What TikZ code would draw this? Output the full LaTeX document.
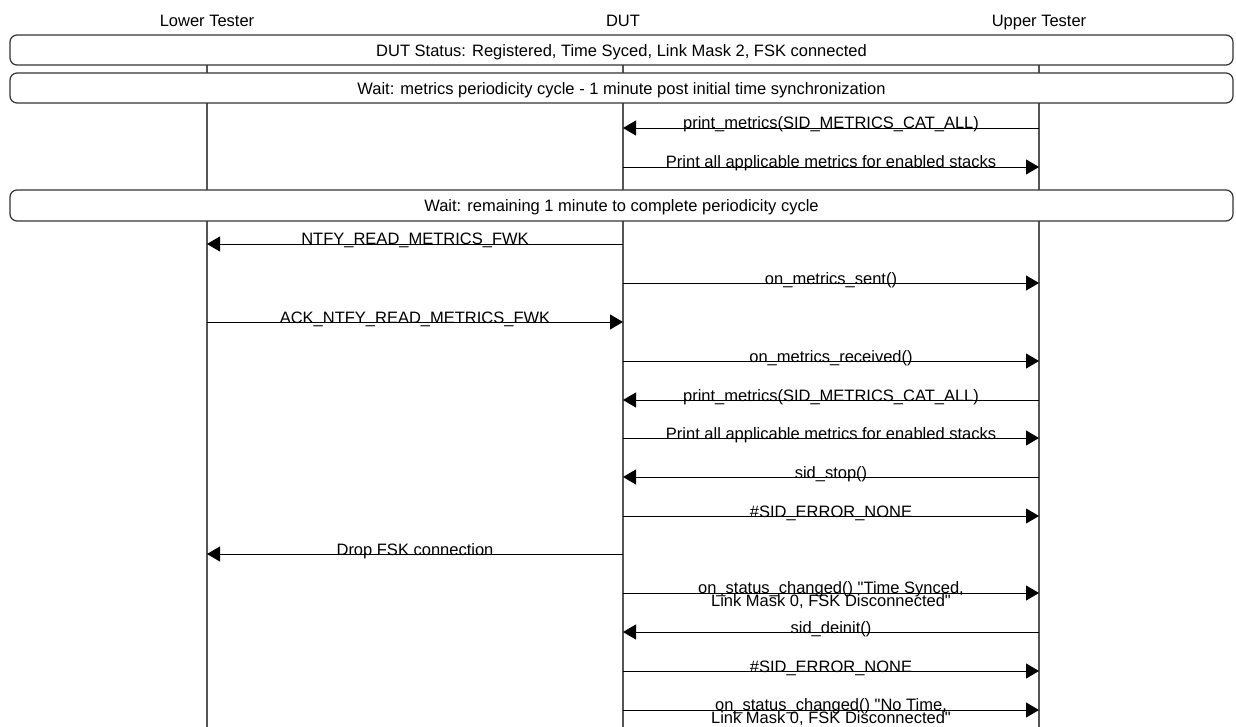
\documentclass[tikz,border=0pt]{standalone}
\usepackage{fontspec}
\setmainfont{Liberation Sans}[Ligatures=TeXOff]
\usetikzlibrary{arrows.meta}

\definecolor{lifegray}{HTML}{555555}
\definecolor{boxgray}{HTML}{333333}

% straight double quote
\newcommand{\sdq}{\char34\relax}

\tikzset{
  actor/.style={anchor=base, inner sep=0pt, font=\fontsize{16.5}{18}\selectfont},
  lifeline/.style={draw=lifegray, line width=1.6pt},
  statebox/.style={draw=boxgray, fill=white, line width=1.2pt, rounded corners=7pt,
    minimum width=1223pt, minimum height=30pt, inner sep=0pt,
    text height=13pt, text depth=0pt, font=\fontsize{16.5}{18}\selectfont},
  msg/.style={draw=black, line width=0.9pt, -{Triangle[length=13pt,width=15pt]}},
  lbl/.style={midway, anchor=base, inner sep=0pt, yshift=-1pt,
    font=\fontsize{16.5}{18}\selectfont},
  lbltwo/.style={midway, anchor=center, inner sep=0pt, align=center, yshift=-2pt,
    font=\fontsize{16.5}{13.5}\selectfont},
}

\begin{document}
\begin{tikzpicture}[x=1pt, y=-1pt]
  \useasboundingbox (0,0) rectangle (1236,727);

  % participants
  \node[actor] (lt) at (207,27) {Lower Tester};
  \node[actor] (dut) at (623,27) {DUT};
  \node[actor] (ut) at (1039,27) {Upper Tester};

  % lifeline ends
  \coordinate (lt-top) at (207,35);   \coordinate (lt-bot) at (207,727);
  \coordinate (dut-top) at (623,35);  \coordinate (dut-bot) at (623,727);
  \coordinate (ut-top) at (1039,35);  \coordinate (ut-bot) at (1039,727);
  \draw[lifeline] (lt-top) -- (lt-bot);
  \draw[lifeline] (dut-top) -- (dut-bot);
  \draw[lifeline] (ut-top) -- (ut-bot);

  % state / wait boxes spanning all lifelines
  \node[statebox] (status) at (621.5,50) {DUT Status: Registered, Time Syced, Link Mask 2, FSK connected};
  \node[statebox] (wait1) at (621.5,88) {Wait: metrics periodicity cycle - 1 minute post initial time synchronization};
  \node[statebox, minimum height=31pt] (wait2) at (621.5,205.5) {Wait: remaining 1 minute to complete periodicity cycle};

  % messages
  \draw[msg] (ut |- 0,128) -- node[lbl] {print\_metrics(SID\_METRICS\_CAT\_ALL)} (dut |- 0,128);
  \draw[msg] (dut |- 0,167) -- node[lbl] {Print all applicable metrics for enabled stacks} (ut |- 0,167);

  \draw[msg] (dut |- 0,244) -- node[lbl] {NTFY\_READ\_METRICS\_FWK} (lt |- 0,244);
  \draw[msg] (dut |- 0,283) -- node[lbl] {on\_metrics\_sent()} (ut |- 0,283);
  \draw[msg] (lt |- 0,322) -- node[lbl] {ACK\_NTFY\_READ\_METRICS\_FWK} (dut |- 0,322);
  \draw[msg] (dut |- 0,361) -- node[lbl] {on\_metrics\_received()} (ut |- 0,361);
  \draw[msg] (ut |- 0,400) -- node[lbl] {print\_metrics(SID\_METRICS\_CAT\_ALL)} (dut |- 0,400);
  \draw[msg] (dut |- 0,438) -- node[lbl] {Print all applicable metrics for enabled stacks} (ut |- 0,438);
  \draw[msg] (ut |- 0,477) -- node[lbl] {sid\_stop()} (dut |- 0,477);
  \draw[msg] (dut |- 0,516) -- node[lbl] {\#SID\_ERROR\_NONE} (ut |- 0,516);
  \draw[msg] (dut |- 0,554) -- node[lbl] {Drop FSK connection} (lt |- 0,554);
  \draw[msg] (dut |- 0,593) -- node[lbltwo] {on\_status\_changed() \sdq Time Synced,\\[-3pt]Link Mask 0, FSK Disconnected\sdq} (ut |- 0,593);
  \draw[msg] (ut |- 0,632) -- node[lbl] {sid\_deinit()} (dut |- 0,632);
  \draw[msg] (dut |- 0,671) -- node[lbl] {\#SID\_ERROR\_NONE} (ut |- 0,671);
  \draw[msg] (dut |- 0,710) -- node[lbltwo] {on\_status\_changed() \sdq No Time,\\[-3pt]Link Mask 0, FSK Disconnected\sdq} (ut |- 0,710);
\end{tikzpicture}
\end{document}
